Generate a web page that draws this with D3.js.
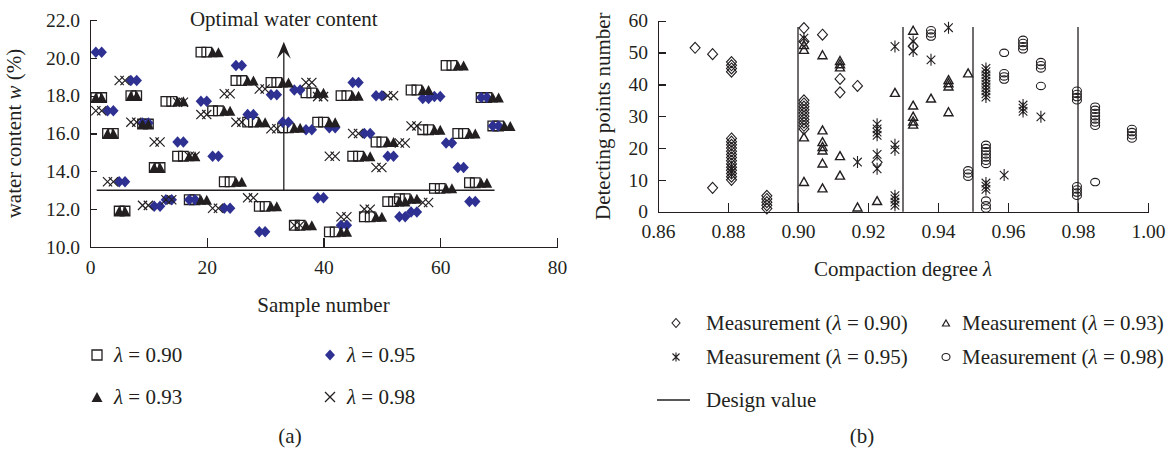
<!DOCTYPE html>
<html>
<head>
<meta charset="utf-8">
<script src="https://cdn.jsdelivr.net/npm/d3@7"></script>
<style>
body { margin: 0; background: #fff; }
svg text { font-family: "Liberation Serif", "Times New Roman", serif; fill: #231f20; }
.axis path, .axis line { stroke: #231f20; stroke-width: 1.3; shape-rendering: crispEdges; }
</style>
</head>
<body>
<svg id="chart" width="1175" height="452"></svg>
<script>
// ---- panel (a): [sample number, water content w %] ----
const sq90 = [
  [1,17.9],[2,17.9],[3,16.0],[4,16.0],[5,11.9],[6,11.9],[7,18.0],[8,18.0],[9,16.5],[10,16.5],
  [11,14.2],[12,14.2],[13,17.7],[14,17.7],[15,14.8],[16,14.8],[17,12.5],[18,12.5],[19,20.3],[20,20.3],
  [21,17.2],[22,17.2],[23,13.45],[24,13.45],[25,18.8],[26,18.8],[27,16.6],[28,16.6],[29,12.15],[30,12.15],
  [31,18.7],[32,18.7],[33,16.3],[34,16.3],[35,11.15],[36,11.15],[37,18.15],[38,18.15],[39,16.6],[40,16.6],
  [41,10.8],[42,10.8],[43,18.0],[44,18.0],[45,14.8],[46,14.8],[47,11.6],[48,11.6],[49,15.55],[50,15.55],
  [51,12.4],[52,12.4],[53,12.55],[54,12.55],[55,18.3],[56,18.3],[57,16.2],[58,16.2],[59,13.1],[60,13.1],
  [61,19.6],[62,19.6],[63,16.0],[64,16.0],[65,13.4],[66,13.4],[67,17.9],[68,17.9],[69,16.4],[70,16.4]
];
const tri93 = [
  [1,17.9],[2,17.9],[3,16.0],[4,16.0],[5,11.9],[6,11.9],[7,18.0],[8,18.0],[9,16.5],[10,16.5],
  [11,14.2],[12,14.2],[15,17.7],[16,17.7],[17,14.8],[18,14.8],[19,12.5],[20,12.5],[21,20.3],[22,20.3],
  [23,17.2],[24,17.2],[25,13.45],[26,13.45],[27,18.8],[28,18.8],[29,16.6],[30,16.6],[31,12.15],[32,12.15],
  [33,18.7],[34,18.7],[35,16.3],[36,16.3],[37,11.15],[38,11.15],[39,18.15],[40,18.15],[41,16.6],[42,16.6],
  [43,10.8],[44,10.8],[45,18.0],[46,18.0],[47,14.8],[48,14.8],[49,11.6],[50,11.6],[51,15.55],[52,15.55],
  [53,12.4],[54,12.4],[55,12.55],[56,12.55],[57,18.3],[58,18.3],[59,16.2],[60,16.2],[61,13.1],[62,13.1],
  [63,19.6],[64,19.6],[65,16.0],[66,16.0],[67,13.4],[68,13.4],[69,17.9],[70,17.9],[71,16.4],[72,16.4]
];
const dia95 = [
  [1,20.3],[2,20.3],[3,17.2],[4,17.2],[5,13.45],[6,13.45],[7,18.8],[8,18.8],[9,16.55],[10,16.55],
  [11,12.15],[12,12.15],[13,12.5],[14,12.5],[15,15.55],[16,15.55],[17,12.5],[18,12.5],[19,17.7],[20,17.7],
  [21,14.8],[22,14.8],[23,12.05],[24,12.05],[25,19.6],[26,19.6],[27,17.0],[28,17.0],[29,10.8],[30,10.8],
  [31,18.05],[32,18.05],[33,16.6],[34,16.6],[35,18.3],[36,18.3],[37,16.2],[38,16.2],[39,12.6],[40,12.6],
  [41,16.3],[42,16.3],[43,11.15],[44,11.15],[45,18.7],[46,18.7],[47,16.0],[48,16.0],[49,18.0],[50,18.0],
  [51,14.8],[52,14.8],[53,11.6],[54,11.6],[55,11.85],[56,11.85],[57,17.85],[58,17.85],[59,17.95],[60,17.95],
  [61,15.5],[62,15.5],[63,14.2],[64,14.2],[65,12.4],[66,12.4],[67,17.9],[68,17.9],[69,16.4],[70,16.4]
];
const x98 = [
  [1,17.2],[2,17.2],[3,13.45],[4,13.45],[5,18.8],[6,18.8],[7,16.6],[8,16.6],[9,12.2],[10,12.2],
  [11,15.55],[12,15.55],[13,12.5],[14,12.5],[15,17.65],[16,17.65],[17,14.8],[18,14.8],[19,17.0],[20,17.0],
  [21,12.05],[22,12.05],[23,18.1],[24,18.1],[25,16.6],[26,16.6],[27,12.6],[28,12.6],[29,18.35],[30,18.35],
  [31,16.25],[32,16.25],[35,11.15],[36,11.15],[37,18.7],[38,18.7],[39,17.95],[40,17.95],[41,14.8],[42,14.8],
  [43,11.6],[44,11.6],[45,16.0],[46,16.0],[47,12.0],[48,12.0],[49,14.2],[50,14.2],[51,18.0],[52,18.0],
  [53,15.5],[54,15.5],[55,16.4],[56,16.4],[57,12.35],[58,12.35]
];
const optimalW = 13.0;          // optimal water content line
const optimalSpan = [1.15, 69.3];
const arrowSample = 33.2;
const arrowTop = 20.85;
const legendA = ['0.90', '0.93', '0.95', '0.98'];

// ---- panel (b): [compaction degree, detecting point number] ----
const meas90 = [
  [0.8706,51.5],[0.8756,49.5],[0.8756,7.5],
  [0.881,44],[0.881,45],[0.881,46],[0.881,47],
  [0.881,10],[0.881,11],[0.881,12],[0.881,13],[0.881,14],[0.881,15],[0.881,16],[0.881,17],
  [0.881,18],[0.881,19],[0.881,20],[0.881,21],[0.881,22],[0.881,23],
  [0.8911,1],[0.8911,2],[0.8911,3],[0.8911,4],[0.8911,5],
  [0.9017,57.7],[0.9017,53.5],
  [0.9017,26],[0.9017,27],[0.9017,28],[0.9017,29],[0.9017,30],[0.9017,31],[0.9017,32],[0.9017,33],[0.9017,34],[0.9017,35],
  [0.907,55.6],[0.912,41.7],[0.912,37.5],[0.917,39.5],[0.9226,15.5],[0.9329,52]
];
const meas93 = [
  [0.9017,51],[0.9017,52.5],[0.9017,23.5],[0.9017,9.5],
  [0.907,49.3],[0.907,25.7],[0.907,22],[0.907,20.5],[0.907,19.4],[0.907,15.3],[0.907,7.5],
  [0.912,47.5],[0.912,46.5],[0.912,45.5],[0.912,17.6],[0.912,11.5],
  [0.917,1.5],[0.9226,3.5],[0.9277,37.5],
  [0.9329,57],[0.9329,33.5],[0.9329,30],[0.9329,28.5],[0.9329,27.5],
  [0.938,35.7],[0.943,41.5],[0.943,40.5],[0.943,39.5],[0.943,31.4],[0.9486,43.6]
];
const meas95 = [
  [0.881,12.5],[0.881,13.5],[0.9017,54.5],[0.917,15.6],
  [0.9226,24],[0.9226,25],[0.9226,26],[0.9226,27.5],[0.9226,13.5],[0.9226,18],
  [0.9277,51.9],[0.9277,19.5],[0.9277,21],[0.9277,2],[0.9277,3],[0.9277,4],[0.9277,5],
  [0.9329,50.5],[0.9329,53.5],[0.938,47.7],[0.943,57.8],
  [0.9537,36],[0.9537,37],[0.9537,38],[0.9537,39],[0.9537,40],[0.9537,41],[0.9537,42],[0.9537,43],[0.9537,44],[0.9537,45],
  [0.9537,7],[0.9537,8],[0.9537,9],
  [0.9589,11.5],[0.9643,31.5],[0.9643,32.5],[0.9643,33.5],[0.9694,29.8]
];
const meas98 = [
  [0.938,55],[0.938,56],[0.938,57],
  [0.9486,11],[0.9486,12],[0.9486,13],
  [0.9537,15],[0.9537,16],[0.9537,17],[0.9537,18],[0.9537,19],[0.9537,20],[0.9537,21],
  [0.9537,1],[0.9537,2],[0.9537,3.5],
  [0.9589,49.9],[0.9589,41.5],[0.9589,42.5],[0.9589,43.5],
  [0.9643,51],[0.9643,52],[0.9643,53],[0.9643,54],
  [0.9694,45],[0.9694,46],[0.9694,47],[0.9694,39.5],
  [0.9797,35],[0.9797,36],[0.9797,37],[0.9797,38],[0.9797,5],[0.9797,6],[0.9797,7],[0.9797,8],
  [0.9849,27],[0.9849,28],[0.9849,29],[0.9849,30],[0.9849,31],[0.9849,32],[0.9849,33],[0.9849,9.3],
  [0.9954,23],[0.9954,24],[0.9954,25],[0.9954,26]
];
const designValues = [[0.90,58],[0.93,58],[0.95,58],[0.98,58]];
const legendB = ['0.90', '0.93', '0.95', '0.98'];

const ink = '#231f20';
const blue = '#2e3192';
const labelSize = '21px';
const svg = d3.select('#chart');

// marker shapes
const squarePath = s => `M${-s},${-s}h${2*s}v${2*s}h${-2*s}Z`;
const triPath = (w, h) => `M0,${-h/2}L${w/2},${h/2}L${-w/2},${h/2}Z`;
const diaPath = (w, h) => `M0,${-h/2}L${w/2},0L0,${h/2}L${-w/2},0Z`;
const crossPath = s => `M${-s},${-s}L${s},${s}M${-s},${s}L${s},${-s}`;
const starPath = (s, h) => crossPath(s) + `M0,${-h}V${h}`;

function drawMarks(g, data, x, y, d, style) {
    const sel = g.append('g').selectAll('path').data(data).join('path')
        .attr('transform', p => `translate(${x(p[0])},${y(p[1])})`)
        .attr('d', d);
    Object.entries(style).forEach(([k, v]) => sel.attr(k, v));
    return sel;
}

function lambdaText(sel, before, after) {
    sel.append('tspan').text(before);
    sel.append('tspan').style('font-style', 'italic').text('λ');
    sel.append('tspan').text(after);
}

// ================= panel (a) =================
const xA = d3.scaleLinear().domain([0, 80]).range([90, 557]);
const yA = d3.scaleLinear().domain([10, 22]).range([247, 20]);
const gA = svg.append('g');

gA.append('g').attr('class', 'axis')
    .attr('transform', `translate(0,${yA(10)})`)
    .call(d3.axisBottom(xA).tickValues([0, 20, 40, 60, 80]).tickSizeInner(-9).tickSizeOuter(0).tickPadding(13))
    .call(g => g.selectAll('text').style('font-size', '19.5px').attr('fill', ink));

gA.append('g').attr('class', 'axis')
    .attr('transform', `translate(${xA(0)},0)`)
    .call(d3.axisLeft(yA).tickValues([10, 12, 14, 16, 18, 20, 22]).tickFormat(d3.format('.1f'))
        .tickSizeInner(-7).tickSizeOuter(0).tickPadding(10))
    .call(g => g.selectAll('text').style('font-size', '19.5px').attr('fill', ink));

// optimal water content guide
gA.append('line')
    .attr('x1', xA(optimalSpan[0])).attr('x2', xA(optimalSpan[1]))
    .attr('y1', yA(optimalW)).attr('y2', yA(optimalW))
    .attr('stroke', ink).attr('stroke-width', 1.3);
gA.append('line')
    .attr('x1', xA(arrowSample)).attr('x2', xA(arrowSample))
    .attr('y1', yA(optimalW)).attr('y2', yA(arrowTop) + 4)
    .attr('stroke', ink).attr('stroke-width', 1.3);
gA.append('path')
    .attr('transform', `translate(${xA(arrowSample)},${yA(arrowTop)})`)
    .attr('d', 'M0,0L7,17L0,10L-7,17Z')
    .attr('fill', ink);

drawMarks(gA, sq90, xA, yA, squarePath(4.8), {fill: 'none', stroke: ink, 'stroke-width': 1.3});
drawMarks(gA, dia95, xA, yA, diaPath(10.5, 11.5), {fill: blue});
drawMarks(gA, tri93, xA, yA, triPath(10.5, 10), {fill: ink});
drawMarks(gA, x98, xA, yA, crossPath(4.6), {fill: 'none', stroke: ink, 'stroke-width': 1.2});

gA.append('text')
    .attr('x', xA(arrowSample)).attr('y', 26)
    .attr('text-anchor', 'middle').style('font-size', labelSize)
    .text('Optimal water content');

gA.append('text')
    .attr('transform', `translate(21,${(yA(10) + yA(22)) / 2}) rotate(-90)`)
    .attr('text-anchor', 'middle').style('font-size', labelSize)
    .call(t => {
        t.append('tspan').text('water content ');
        t.append('tspan').style('font-style', 'italic').text('w');
        t.append('tspan').text(' (%)');
    });

gA.append('text')
    .attr('x', (xA(0) + xA(80)) / 2).attr('y', 312)
    .attr('text-anchor', 'middle').style('font-size', labelSize)
    .text('Sample number');

// legend (a)
const legAPos = [[97, 355], [97, 397], [330, 355], [330, 397]];
const legAShape = [
    g => g.append('path').attr('d', squarePath(5)).attr('fill', 'none').attr('stroke', ink).attr('stroke-width', 1.3),
    g => g.append('path').attr('d', triPath(11, 10)).attr('fill', ink),
    g => g.append('path').attr('d', diaPath(10, 11)).attr('fill', blue),
    g => g.append('path').attr('d', crossPath(5)).attr('stroke', ink).attr('stroke-width', 1.3)
];
legendA.forEach((lab, i) => {
    const g = gA.append('g').attr('transform', `translate(${legAPos[i][0]},${legAPos[i][1]})`);
    legAShape[i](g);
    g.append('text').attr('x', 17).attr('y', 7).style('font-size', labelSize)
        .call(t => lambdaText(t, '', ' = ' + lab));
});

gA.append('text').attr('x', 290).attr('y', 443)
    .attr('text-anchor', 'middle').style('font-size', labelSize).text('(a)');

// ================= panel (b) =================
const xB = d3.scaleLinear().domain([0.86, 1.0]).range([658, 1148]);
const yB = d3.scaleLinear().domain([0, 60]).range([211.7, 20.7]);
const gB = svg.append('g');

gB.append('g').attr('class', 'axis')
    .attr('transform', `translate(0,${yB(0)})`)
    .call(d3.axisBottom(xB).tickValues([0.86, 0.88, 0.90, 0.92, 0.94, 0.96, 0.98, 1.00])
        .tickFormat(d3.format('.2f')).tickSizeInner(-9).tickSizeOuter(0).tickPadding(12))
    .call(g => g.selectAll('text').style('font-size', '19.5px').attr('fill', ink));

gB.append('g').attr('class', 'axis')
    .attr('transform', `translate(${xB(0.86)},0)`)
    .call(d3.axisLeft(yB).tickValues([0, 10, 20, 30, 40, 50, 60]).tickFormat(d3.format('d'))
        .tickSizeInner(-8).tickSizeOuter(0).tickPadding(10))
    .call(g => g.selectAll('text').style('font-size', '19.5px').attr('fill', ink));

gB.append('g').selectAll('line').data(designValues).join('line')
    .attr('x1', d => xB(d[0])).attr('x2', d => xB(d[0]))
    .attr('y1', yB(0)).attr('y2', d => yB(d[1]))
    .attr('stroke', ink).attr('stroke-width', 1.3);

drawMarks(gB, meas90, xB, yB, diaPath(10, 11), {fill: 'none', stroke: ink, 'stroke-width': 1.1});
drawMarks(gB, meas93, xB, yB, triPath(9, 8), {fill: 'none', stroke: ink, 'stroke-width': 1.4});
drawMarks(gB, meas95, xB, yB, starPath(4.3, 6), {fill: 'none', stroke: ink, 'stroke-width': 1.1});
gB.append('g').selectAll('ellipse').data(meas98).join('ellipse')
    .attr('cx', d => xB(d[0])).attr('cy', d => yB(d[1]))
    .attr('rx', 4.5).attr('ry', 3.7)
    .attr('fill', 'none').attr('stroke', ink).attr('stroke-width', 1.1);

gB.append('text')
    .attr('transform', `translate(610,${(yB(0) + yB(60)) / 2}) rotate(-90)`)
    .attr('text-anchor', 'middle').style('font-size', labelSize)
    .text('Detecting points number');

gB.append('text')
    .attr('x', (xB(0.86) + xB(1.0)) / 2).attr('y', 276)
    .attr('text-anchor', 'middle').style('font-size', labelSize)
    .call(t => lambdaText(t, 'Compaction degree ', ''));

// legend (b)
const legBPos = [[676, 323], [946, 323], [676, 357], [946, 357]];
const legBShape = [
    g => g.append('path').attr('d', diaPath(8, 9)).attr('fill', 'none').attr('stroke', ink).attr('stroke-width', 1.1),
    g => g.append('path').attr('d', triPath(7, 6)).attr('fill', 'none').attr('stroke', ink).attr('stroke-width', 1.2),
    g => g.append('path').attr('d', starPath(3.5, 4.5)).attr('fill', 'none').attr('stroke', ink).attr('stroke-width', 1.1),
    g => g.append('ellipse').attr('rx', 4).attr('ry', 3.5).attr('fill', 'none').attr('stroke', ink).attr('stroke-width', 1.1)
];
const legBTextX = [706, 962, 706, 962];
legendB.forEach((lab, i) => {
    const g = gB.append('g').attr('transform', `translate(${legBPos[i][0]},${legBPos[i][1]})`);
    legBShape[i](g);
    gB.append('text').attr('x', legBTextX[i]).attr('y', legBPos[i][1] + 7).style('font-size', labelSize)
        .call(t => lambdaText(t, 'Measurement (', ' = ' + lab + ')'));
});
gB.append('line').attr('x1', 657).attr('x2', 690).attr('y1', 400).attr('y2', 400)
    .attr('stroke', ink).attr('stroke-width', 1.3);
gB.append('text').attr('x', 706).attr('y', 407).style('font-size', labelSize).text('Design value');

gB.append('text').attr('x', 862).attr('y', 443)
    .attr('text-anchor', 'middle').style('font-size', labelSize).text('(b)');
</script>
</body>
</html>
